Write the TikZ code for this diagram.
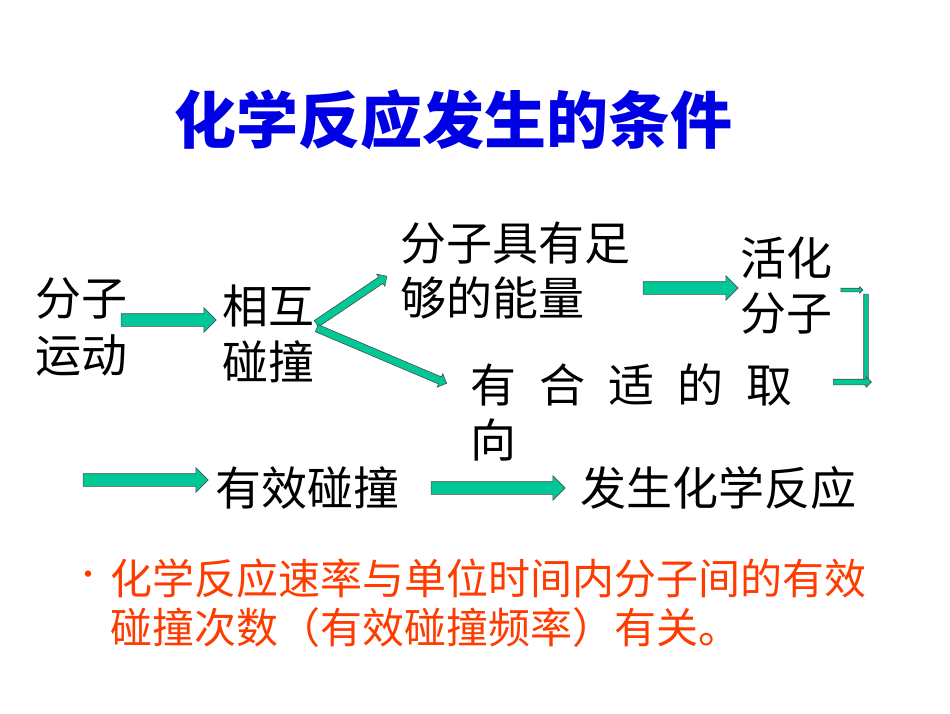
\documentclass[tikz,border=0pt]{standalone}
\usepackage{fontspec}
\setmainfont{Noto Sans CJK SC}
\usetikzlibrary{shapes.arrows}
\definecolor{tealg}{RGB}{0,200,150}
\definecolor{ored}{RGB}{255,60,0}
\begin{document}
\begin{tikzpicture}[x=1pt,y=-1pt,
  barrow/.style={single arrow,draw=black!70,line width=0.6pt,fill=tealg,inner xsep=0pt,inner ysep=#1,text width=0pt,text height=0pt,text depth=0pt,single arrow head extend=#1,single arrow head indent=0pt,anchor=center},
  barrow/.default=6pt,
  txt/.style={font=\fontsize{46}{50}\selectfont,anchor=west,inner sep=0pt},
  btxt/.style={font=\fontsize{42}{50}\selectfont,anchor=west,inner sep=0pt,text=ored}]
\useasboundingbox (0,0) rectangle (950,713);
\fill[white] (0,0) rectangle (950,713);
\node[font=\fontsize{62}{66}\selectfont\bfseries,text=blue!90!black,inner sep=0pt] (title) at (453,120) {化学反应发生的条件};
\node[txt] (t1) at (35,298) {分子};
\node[txt] (t2) at (35,355) {运动};
\node[txt] (t3) at (222,306) {相互};
\node[txt] (t4) at (222,362) {碰撞};
\node[txt] (t5) at (400,243) {分子具有足};
\node[txt] (t6) at (400,298) {够的能量};
\node[txt] (t7) at (740,258) {活化};
\node[txt] (t8) at (740,313) {分子};
\node[txt] (t9) at (470,385) {有\hspace{0.5em}合\hspace{0.5em}适\hspace{0.5em}的\hspace{0.5em}取};
\node[txt] (t10) at (470,440) {向};
\node[txt] (t11) at (215,488) {有效碰撞};
\node[txt] (t12) at (580,488) {发生化学反应};
\node[font=\fontsize{30}{30}\selectfont,text=ored,inner sep=0pt] (b0) at (88,578) {•};
\node[btxt] (b1) at (110,578) {化学反应速率与单位时间内分子间的有效};
\node[btxt] (b2) at (110,628) {碰撞次数（有效碰撞频率）有关。};
\node[barrow, minimum height=95pt] (a1) at (165.5,320) {};
\node[barrow=3.5pt, minimum height=85pt, rotate=34] (a2) at (350,301) {};
\node[barrow=3.5pt, minimum height=141pt, rotate=-23] (a3) at (380,355) {};
\node[barrow, minimum height=95pt] (a4) at (687.5,288) {};
\node[barrow=1.5pt, minimum height=22pt] (a5) at (851,290) {};
\node[barrow=2pt, minimum height=92pt, rotate=-90] (a6) at (866,339) {};
\node[barrow=2.5pt, minimum height=38pt] (a7) at (851,382) {};
\node[barrow, minimum height=125pt] (a8) at (142.5,480) {};
\node[barrow, minimum height=134pt] (a9) at (495,488) {};
\end{tikzpicture}
\end{document}
